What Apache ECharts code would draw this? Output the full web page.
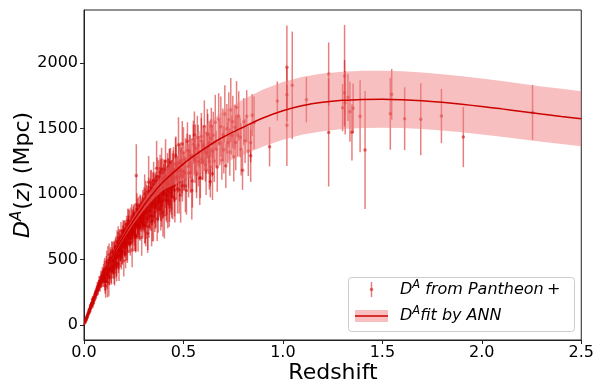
<!DOCTYPE html>
<html>
<head>
<meta charset="utf-8">
<script src="https://cdn.jsdelivr.net/npm/echarts@6/dist/echarts.min.js"></script>
<style>html,body{margin:0;padding:0;background:#fff}#c{width:597px;height:383px}</style>
</head>
<body>
<div id="c"></div>
<script>
// ANN fit curve and 1-sigma half width
const fitZ = [0,0.02,0.05,0.1,0.15,0.2,0.25,0.3,0.35,0.4,0.5,0.6,0.7,0.8,0.9,1.0,1.1,1.2,1.3,1.4,1.5,1.6,1.7,1.8,1.9,2.0,2.1,2.2,2.3,2.4,2.5];
const fitD = [0,85,205,390,545,680,800,910,1010,1095,1230,1340,1435,1510,1580,1635,1675,1700,1715,1722,1724,1720,1712,1700,1685,1668,1650,1630,1610,1592,1575];
const fitSigma = [0,3,6,10,15,20,28,36,48,65,125,170,200,212,218,220,220,220,219,219,218,217,216,215,214,213,212,212,211,211,210];

// Pantheon+ points [z, D_A, err]
const ptsVeryLow = [[0.004,15,8],[0.006,26,9],[0.008,30,10],[0.010,42,10],[0.011,40,12],[0.012,52,11],[0.014,55,12],[0.015,64,14],[0.016,60,13],[0.018,72,14],[0.019,80,15],[0.021,84,15],[0.022,92,16],[0.024,95,18],[0.025,108,17],[0.027,110,18],[0.028,118,20],[0.029,105,22],[0.030,122,19],[0.031,126,22],[0.033,138,21],[0.034,150,24],[0.035,140,22],[0.036,152,24],[0.038,150,25],[0.039,150,26],[0.040,165,24],[0.042,170,26],[0.043,195,28],[0.044,178,27],[0.045,160,30],[0.046,190,28],[0.048,192,30],[0.050,205,30],[0.052,190,30],[0.053,212,32],[0.055,228,33],[0.057,240,32],[0.058,232,34],[0.060,248,35],[0.062,232,36],[0.063,255,36],[0.066,262,38],[0.067,290,38],[0.068,280,40],[0.071,285,40],[0.072,270,42],[0.074,300,42],[0.076,330,44],[0.077,305,45],[0.080,322,44],[0.081,300,46],[0.083,330,46],[0.085,365,48],[0.086,340,48],[0.088,330,50],[0.090,352,50],[0.092,390,52],[0.093,366,50],[0.095,345,55],[0.096,372,52],[0.098,410,55],[0.099,385,54]];
const ptsLowA = [[0.100,350,60],[0.104,427,85],[0.108,330,70],[0.112,432,95],[0.116,380,55],[0.120,492,110],[0.124,444,75],[0.128,367,65],[0.132,504,90],[0.136,432,80],[0.140,569,70],[0.144,491,100],[0.148,444,60],[0.152,560,85],[0.156,511,95],[0.160,602,75],[0.164,453,120],[0.168,579,65],[0.172,664,90],[0.176,540,80],[0.180,626,70],[0.184,592,105],[0.188,668,60],[0.192,558,95],[0.196,714,85],[0.200,655,75],[0.204,625,110],[0.208,734,65],[0.212,589,100],[0.216,713,80],[0.220,798,90],[0.224,683,70],[0.228,762,115],[0.232,667,60],[0.236,736,85],[0.240,826,95],[0.244,706,75],[0.248,800,105],[0.252,764,65],[0.256,838,90],[0.260,682,130],[0.264,821,70],[0.268,880,85],[0.272,788,100],[0.276,867,60],[0.280,761,110],[0.284,905,80],[0.288,864,75],[0.292,822,95],[0.296,961,70]];
const ptsLowB = [[0.102,416,75],[0.106,334,95],[0.110,411,60],[0.114,478,90],[0.118,331,120],[0.122,428,70],[0.126,536,85],[0.130,428,100],[0.134,500,65],[0.138,418,110],[0.142,555,80],[0.146,488,75],[0.150,540,95],[0.154,431,130],[0.158,591,70],[0.162,512,90],[0.166,638,85],[0.170,579,65],[0.174,525,105],[0.178,636,80],[0.182,581,95],[0.186,717,70],[0.190,618,110],[0.194,564,60],[0.198,675,90],[0.202,725,75],[0.206,624,100],[0.210,689,85],[0.214,769,65],[0.218,613,120],[0.222,753,80],[0.226,702,95],[0.230,667,70],[0.234,792,105],[0.238,711,60],[0.242,791,90],[0.246,695,115],[0.250,845,75],[0.254,784,85],[0.258,688,125],[0.262,861,70],[0.266,830,100],[0.270,769,80],[0.274,913,65],[0.278,817,95],[0.282,886,110],[0.286,789,75],[0.290,858,90],[0.294,922,70],[0.298,851,100],[0.263,1140,240]];
const ptsLowC = [[0.101,373,55],[0.105,335,70],[0.109,298,90],[0.113,440,60],[0.117,353,80],[0.121,415,65],[0.125,318,100],[0.129,420,75],[0.133,512,50],[0.137,405,85],[0.141,487,70],[0.145,450,95],[0.149,412,60],[0.153,553,80],[0.157,514,75],[0.161,465,105],[0.165,571,65],[0.169,521,90],[0.173,467,70],[0.177,648,85],[0.181,564,60],[0.185,545,100],[0.189,625,75],[0.193,541,80],[0.197,627,65],[0.201,697,95],[0.205,607,70],[0.209,542,110],[0.213,676,60],[0.217,651,85],[0.221,625,75],[0.225,745,90],[0.229,695,65],[0.233,629,100],[0.237,749,70],[0.241,688,80],[0.245,728,95],[0.249,823,60],[0.253,692,85],[0.257,775,75],[0.261,674,110],[0.265,823,65],[0.269,762,90],[0.273,751,80],[0.277,829,70],[0.281,743,100],[0.285,827,75],[0.289,896,60],[0.293,800,85],[0.297,838,95]];
const ptsLowD = [[0.152,400,90],[0.158,526,70],[0.164,473,100],[0.170,629,80],[0.176,445,110],[0.182,561,75],[0.188,518,95],[0.194,674,85],[0.200,490,120],[0.206,604,80],[0.212,679,100],[0.218,563,90],[0.224,778,110],[0.230,632,85],[0.236,706,95],[0.242,571,130],[0.248,785,80],[0.254,669,105],[0.260,742,90],[0.266,885,120],[0.272,668,110],[0.278,762,85],[0.284,835,100],[0.290,668,140],[0.296,771,95],[0.302,934,115],[0.308,756,130],[0.314,858,100],[0.320,700,150],[0.326,942,120],[0.332,834,110],[0.338,1046,140],[0.344,798,160],[0.350,920,120],[0.356,860,150],[0.362,1041,130],[0.368,811,170],[0.374,941,140],[0.380,1011,125],[0.386,881,160],[0.392,1121,150],[0.398,952,135],[0.404,840,180],[0.410,1039,145],[0.416,947,165],[0.422,1145,130],[0.428,923,175],[0.434,1041,150],[0.440,1119,140],[0.446,977,170]];
const ptsMidA = [[0.300,850,120],[0.305,1000,150],[0.310,780,180],[0.315,960,110],[0.320,920,140],[0.325,1090,200],[0.330,870,130],[0.335,1020,160],[0.340,790,190],[0.345,1000,115],[0.350,1100,145],[0.355,949,175],[0.360,1017,125],[0.365,1196,210],[0.370,924,135],[0.375,1103,155],[0.380,1021,185],[0.385,900,105],[0.390,1188,165],[0.395,1007,195],[0.400,1125,140],[0.405,1082,120],[0.410,1249,170],[0.415,985,150],[0.420,1182,130],[0.425,1079,190],[0.430,946,160],[0.435,1242,110],[0.440,1059,180],[0.445,1166,145],[0.450,1233,125],[0.455,1029,200],[0.460,1296,135],[0.465,1123,165],[0.470,1175,115],[0.475,1376,210],[0.480,1093,150],[0.485,1255,140],[0.490,1182,175],[0.495,1063,120],[0.500,1315,195],[0.505,1161,130],[0.510,1266,160],[0.515,1027,185],[0.520,1402,145],[0.525,1213,170],[0.530,1328,125],[0.535,1164,155],[0.540,1289,135],[0.545,1100,205],[0.550,1380,150],[0.555,1266,115],[0.560,1351,180],[0.565,1152,140],[0.570,1432,165],[0.575,1248,190],[0.580,1323,120],[0.585,1124,155],[0.590,1404,175],[0.595,1240,135],[0.600,1375,145],[0.605,1515,200],[0.610,1225,130],[0.615,1314,160],[0.620,1464,185],[0.625,1279,125],[0.630,1389,170],[0.635,1208,150],[0.640,1518,140],[0.645,1328,195],[0.635,1094,120],[0.555,1450,180]];
const ptsMidB = [[0.3025,805,100],[0.3105,971,130],[0.3185,887,90],[0.3265,813,150],[0.3345,989,110],[0.3425,905,140],[0.3505,1071,95],[0.3585,895,160],[0.3665,1018,120],[0.3745,982,105],[0.3825,1165,135],[0.3905,919,170],[0.3985,1052,115],[0.4065,1134,125],[0.4145,994,150],[0.4225,1045,100],[0.4305,1207,140],[0.4385,1007,165],[0.4465,1148,110],[0.4545,1069,130],[0.4625,1230,145],[0.4705,1131,120],[0.4785,1031,180],[0.4865,1232,105],[0.4945,1137,135]];
const ptsMidC = [[0.301,832,110],[0.305,760,140],[0.309,948,95],[0.313,816,160],[0.317,904,120],[0.321,752,180],[0.325,1020,105],[0.329,868,130],[0.333,966,150],[0.337,834,115],[0.341,932,170],[0.345,1040,125],[0.349,828,190],[0.353,925,100],[0.357,1022,135],[0.361,899,155],[0.365,986,120],[0.369,1133,145],[0.373,879,175],[0.377,1036,110],[0.381,953,130],[0.385,1100,165],[0.389,936,140],[0.393,1013,115],[0.397,860,185],[0.401,1106,125],[0.405,1007,150],[0.409,1157,105],[0.413,958,160],[0.417,1083,135],[0.421,933,195],[0.425,1075,120],[0.429,1204,140],[0.433,1015,155],[0.437,1130,110],[0.441,985,170],[0.445,1101,130],[0.449,1186,145],[0.453,1062,125],[0.457,962,180]];
const ptsMidD = [[0.462,1279,160],[0.470,1040,190],[0.478,1240,140],[0.486,991,210],[0.494,1382,175],[0.502,1172,150],[0.510,1061,200],[0.518,1330,130],[0.526,1159,185],[0.534,1288,165],[0.542,1026,220],[0.550,1415,145],[0.558,1254,170],[0.566,1163,195],[0.574,1371,155],[0.582,1120,205],[0.590,1439,180],[0.598,1258,150],[0.606,1346,170],[0.614,1183,190],[0.622,1451,160],[0.630,1249,215],[0.638,1426,145],[0.646,1154,200]];
const ptsUpper = [[0.650,1448,180],[0.655,1252,160],[0.660,1547,210],[0.665,1342,140],[0.670,1207,190],[0.677,1570,200],[0.682,1388,170],[0.688,1514,230],[0.693,1258,150],[0.698,1453,200],[0.703,1337,180],[0.708,1611,220],[0.713,1215,170],[0.718,1498,190],[0.723,1392,160],[0.728,1566,210],[0.733,1320,180],[0.738,1641,245],[0.743,1447,150],[0.748,1551,200],[0.753,1285,190],[0.758,1509,170],[0.763,1392,210],[0.767,1662,200],[0.772,1449,160],[0.778,1594,190],[0.785,1433,150],[0.790,1342,200],[0.797,1181,150],[0.803,1552,180],[0.810,1407,170],[0.818,1593,200],[0.826,1328,190],[0.838,1392,150],[0.838,1292,200],[0.846,1602,160],[0.855,1544,200]];
const ptsHigh = [[0.933,1361,150],[0.972,1710,150],[1.02,1967,320],[1.02,1758,200],[1.02,1524,310],[1.047,1830,410],[1.118,1720,173],[1.23,1916,241],[1.23,1470,413],[1.31,1901,390],[1.31,1773,250],[1.30,1659,180],[1.313,1697,242],[1.327,1738,180],[1.337,1628,230],[1.347,1471,215],[1.353,1654,190],[1.388,1593,275],[1.413,1336,450],[1.54,1613,275],[1.547,1761,193],[1.612,1575,240],[1.693,1570,275],[1.797,1595,207],[1.907,1435,230],[2.255,1623,210]];

const xTicks = [0, 0.5, 1.0, 1.5, 2.0, 2.5];
const yTicks = [0, 500, 1000, 1500, 2000];

const points = [].concat(ptsVeryLow, ptsLowA, ptsLowB, ptsLowC, ptsLowD, ptsMidA, ptsMidB, ptsMidC, ptsMidD, ptsUpper, ptsHigh);
const bandData = fitZ.map((z, i) => [z, fitD[i] - fitSigma[i], fitD[i] + fitSigma[i]]);
const fitLine = fitZ.map((z, i) => [z, fitD[i]]);

const FONT = 'DejaVu Sans';
const barColor = 'rgba(208,0,0,0.5)';
const bandColor = 'rgba(240,128,128,0.5)';
const lineColor = '#cc0000';

const chart = echarts.init(document.getElementById('c'), null, {renderer: 'canvas'});
chart.setOption({
  animation: false,
  backgroundColor: '#fff',
  grid: {left: 84, right: 14, top: 10, bottom: 43, show: true, borderColor: '#222', borderWidth: 1, backgroundColor: 'transparent'},
  xAxis: {
    type: 'value', min: 0, max: 2.5, interval: 0.5,
    axisLine: {show: true, onZero: false, lineStyle: {color: '#222', width: 1}},
    axisTick: {show: true, inside: false, length: 4, lineStyle: {color: '#222'}},
    axisLabel: {margin: 5, color: '#000', fontFamily: FONT, fontSize: 16, formatter: v => v.toFixed(1)},
    splitLine: {show: false}
  },
  yAxis: {
    type: 'value', min: -115, max: 2405,
    axisLine: {show: true, onZero: false, lineStyle: {color: '#222', width: 1}},
    axisTick: {show: true, inside: false, length: 4, lineStyle: {color: '#222'}, customValues: yTicks},
    axisLabel: {margin: 6, color: '#000', fontFamily: FONT, fontSize: 16, customValues: yTicks, formatter: v => String(v)},
    splitLine: {show: false}
  },
  series: [
    {
      type: 'custom', name: 'pantheon', data: points, clip: true, z: 2,
      renderItem: function (params, api) {
        const z = api.value(0), d = api.value(1), e = api.value(2);
        const p1 = api.coord([z, d - e]), p2 = api.coord([z, d + e]), p = api.coord([z, d]);
        return {type: 'group', children: [
          {type: 'line', shape: {x1: p[0], y1: p1[1], x2: p[0], y2: p2[1]}, style: {stroke: barColor, lineWidth: 1.5}},
          {type: 'circle', shape: {cx: p[0], cy: p[1], r: 1.8}, style: {fill: barColor}}
        ]};
      }
    },
    {
      type: 'custom', name: 'band', data: [[0]], clip: true, z: 3,
      renderItem: function (params, api) {
        const pts = [];
        bandData.forEach(b => pts.push(api.coord([b[0], b[2]])));
        for (let i = bandData.length - 1; i >= 0; i--) pts.push(api.coord([bandData[i][0], bandData[i][1]]));
        return {type: 'polygon', shape: {points: pts}, style: {fill: bandColor}};
      }
    },
    {
      type: 'line', name: 'fit', data: fitLine, smooth: 0.3, showSymbol: false, z: 4,
      lineStyle: {color: lineColor, width: 1.5}
    }
  ],
  graphic: [
    {type: 'text', x: 333, y: 373, z: 100, style: {text: 'Redshift', font: '22px "DejaVu Sans"', fill: '#000', align: 'center', verticalAlign: 'middle'}},
    {type: 'text', x: 23, y: 175, rotation: Math.PI / 2, z: 100, style: {
      text: '{i|D}{s|A}{n|(}{i|z}{n|) (Mpc)}', align: 'center', verticalAlign: 'middle', fill: '#000',
      rich: {
        i: {fontFamily: FONT, fontSize: 22, fontStyle: 'italic', fill: '#000'},
        s: {fontFamily: FONT, fontSize: 15, fontStyle: 'italic', fill: '#000', padding: [0, 1, 12, 0]},
        n: {fontFamily: FONT, fontSize: 22, fill: '#000'}
      }}},
    {type: 'rect', z: 100, shape: {x: 348.5, y: 277.5, width: 226, height: 54, r: 3}, style: {fill: 'rgba(255,255,255,0.8)', stroke: '#cccccc', lineWidth: 1}},
    {type: 'line', z: 101, shape: {x1: 371.5, y1: 282, x2: 371.5, y2: 297}, style: {stroke: barColor, lineWidth: 1.5}},
    {type: 'circle', z: 101, shape: {cx: 371.5, cy: 289.5, r: 1.8}, style: {fill: barColor}},
    {type: 'text', z: 101, x: 400, y: 290, style: {
      text: '{i|D}{s|A}{i| from Pantheon} {n|+}', verticalAlign: 'middle', fill: '#000',
      rich: {
        i: {fontFamily: FONT, fontSize: 16, fontStyle: 'italic', fill: '#000'},
        s: {fontFamily: FONT, fontSize: 11.5, fontStyle: 'italic', fill: '#000', padding: [0, 0, 9, 0]},
        n: {fontFamily: FONT, fontSize: 16, fill: '#000'}
      }}},
    {type: 'rect', z: 101, shape: {x: 355, y: 310, width: 33, height: 12}, style: {fill: bandColor}},
    {type: 'line', z: 102, shape: {x1: 355, y1: 316, x2: 388, y2: 316}, style: {stroke: lineColor, lineWidth: 1.5}},
    {type: 'text', z: 101, x: 400, y: 316, style: {
      text: '{i|D}{s|A}{i|fit by ANN}', verticalAlign: 'middle', fill: '#000',
      rich: {
        i: {fontFamily: FONT, fontSize: 16, fontStyle: 'italic', fill: '#000'},
        s: {fontFamily: FONT, fontSize: 11.5, fontStyle: 'italic', fill: '#000', padding: [0, 0, 9, 0]}
      }}}
  ]
});
</script>
</body>
</html>
